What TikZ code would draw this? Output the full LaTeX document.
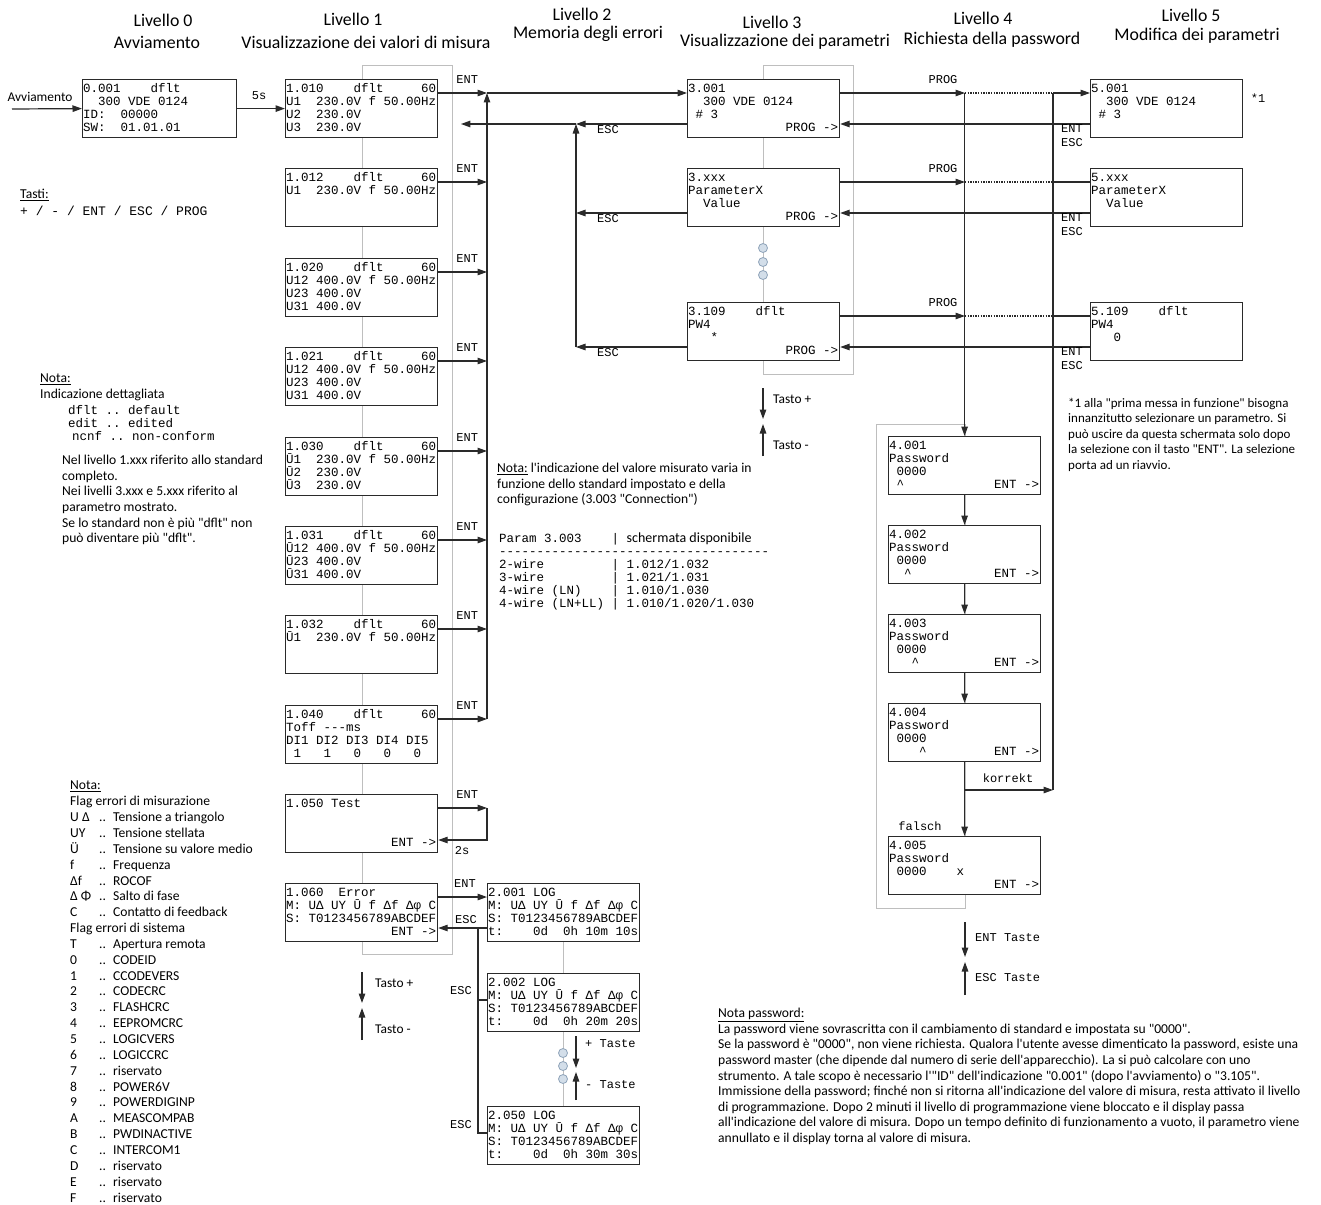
\documentclass[tikz,border=0pt]{standalone}
\usepackage{fontspec}
\newfontfamily\calfnt{Carlito}
\newfontfamily\monofnt{Liberation Mono}
\usetikzlibrary{arrows.meta,calc}
\definecolor{lc}{HTML}{2A2A2A}
\definecolor{gc}{HTML}{BEBEBE}
\definecolor{bubfill}{HTML}{D3DEE9}
\definecolor{bubdraw}{HTML}{8EA3B9}
\newcommand\monosz[1]{\fontsize{#1}{13}\selectfont\monofnt}
\newcommand\fixsp{\spaceskip=0.6001em\xspaceskip=0.6001em\relax}
\newcommand\lcdtxt[4]{\fixsp\rule{0pt}{9.5pt}#1\\\mbox{}#2\\\mbox{}#3\\\mbox{}#4\rule[-3pt]{0pt}{3pt}}
\newcommand\frow[2]{\makebox[29pt][l]{#1}\makebox[14pt][l]{..}#2}
\tikzset{
  ln/.style={draw=lc, line width=1.2pt},
  arr/.style={ln, -{Triangle[length=9.5pt,width=6.5pt]}},
  dotln/.style={draw=lc, line width=1.3pt, dash pattern=on 1.4pt off 1.2pt},
  scr/.style={draw=lc, line width=1.2pt, fill=white, anchor=north west, inner xsep=0.5pt, inner ysep=0pt, text width=151pt, minimum height=58pt, align=left, font=\monosz{12.5}},
  grp/.style={draw=gc, line width=0.9pt, anchor=north west, inner sep=0pt},
  hd/.style={font=\fontsize{17.8}{20}\selectfont\calfnt, inner sep=0pt},
  keylbl/.style={font=\monosz{12}, inner sep=0pt},
  txt/.style={font=\fontsize{13.6}{15.6}\selectfont\calfnt, inner sep=0pt, align=left, anchor=north west},
  smalllbl/.style={font=\fontsize{13.4}{14}\selectfont\calfnt, inner sep=0pt, anchor=west},
  bub/.style={circle, draw=bubdraw, fill=bubfill, line width=0.8pt, minimum size=9pt, inner sep=0pt},
}
\begin{document}
\begin{tikzpicture}[x=1pt,y=-1pt]
\useasboundingbox (0,0) rectangle (1321,1204);
\fill[white] (0,0) rectangle (1321,1204);

% group frames
\node[grp, minimum width=90pt, minimum height=889pt] (g1) at (362,65) {};
\node[grp, minimum width=90pt, minimum height=309pt] (g3) at (763,65) {};
\node[grp, minimum width=89pt, minimum height=484pt] (g4) at (876,424) {};

% headings
\node[hd] (h0a) at (163,20) {Livello 0};
\node[hd] (h0b) at (157,42) {Avviamento};
\node[hd] (h1a) at (353,19) {Livello 1};
\node[hd] (h1b) at (366,42) {Visualizzazione dei valori di misura};
\node[hd] (h2a) at (582,14) {Livello 2};
\node[hd] (h2b) at (588,34) {Memoria degli errori};
\node[hd] (h3a) at (772,22) {Livello 3};
\node[hd] (h3b) at (785,42) {Visualizzazione dei parametri};
\node[hd] (h4a) at (983,18) {Livello 4};
\node[hd] (h4b) at (992,40) {Richiesta della password};
\node[hd] (h5a) at (1191,15) {Livello 5};
\node[hd] (h5b) at (1197,36) {Modifica dei parametri};

% level 0
\node[scr, text width=153pt] (s0001) at (82,79) {\lcdtxt{0.001~~~~dflt}{~~300~VDE~0124}{ID:~~00000}{SW:~~01.01.01}};
% level 1
\node[scr] (s1010) at (285,79) {\lcdtxt{1.010~~~~dflt~~~~~60}{U1~~230.0V~f~50.00Hz}{U2~~230.0V}{U3~~230.0V}};
\node[scr] (s1012) at (285,168) {\lcdtxt{1.012~~~~dflt~~~~~60}{U1~~230.0V~f~50.00Hz}{}{}};
\node[scr] (s1020) at (285,258) {\lcdtxt{1.020~~~~dflt~~~~~60}{U12~400.0V~f~50.00Hz}{U23~400.0V}{U31~400.0V}};
\node[scr] (s1021) at (285,347) {\lcdtxt{1.021~~~~dflt~~~~~60}{U12~400.0V~f~50.00Hz}{U23~400.0V}{U31~400.0V}};
\node[scr] (s1030) at (285,437) {\lcdtxt{1.030~~~~dflt~~~~~60}{Ū1~~230.0V~f~50.00Hz}{Ū2~~230.0V}{Ū3~~230.0V}};
\node[scr] (s1031) at (285,526) {\lcdtxt{1.031~~~~dflt~~~~~60}{Ū12~400.0V~f~50.00Hz}{Ū23~400.0V}{Ū31~400.0V}};
\node[scr] (s1032) at (285,615) {\lcdtxt{1.032~~~~dflt~~~~~60}{Ū1~~230.0V~f~50.00Hz}{}{}};
\node[scr] (s1040) at (285,705) {\lcdtxt{1.040~~~~dflt~~~~~60}{Toff~---ms}{DI1~DI2~DI3~DI4~DI5}{~1~~~1~~~0~~~0~~~0}};
\node[scr] (s1050) at (285,794) {\lcdtxt{1.050~Test}{}{}{~~~~~~~~~~~~~~ENT~->}};
\node[scr] (s1060) at (285,883) {\lcdtxt{1.060~~Error}{M:~UΔ~UY~Ū~f~Δf~Δφ~C}{S:~T0123456789ABCDEF}{~~~~~~~~~~~~~~ENT~->}};
% level 2
\node[scr] (s2001) at (487,883) {\lcdtxt{2.001~LOG}{M:~UΔ~UY~Ū~f~Δf~Δφ~C}{S:~T0123456789ABCDEF}{t:~~~~0d~~0h~10m~10s}};
\node[scr] (s2002) at (487,973) {\lcdtxt{2.002~LOG}{M:~UΔ~UY~Ū~f~Δf~Δφ~C}{S:~T0123456789ABCDEF}{t:~~~~0d~~0h~20m~20s}};
\node[scr] (s2050) at (487,1106) {\lcdtxt{2.050~LOG}{M:~UΔ~UY~Ū~f~Δf~Δφ~C}{S:~T0123456789ABCDEF}{t:~~~~0d~~0h~30m~30s}};
% level 3
\node[scr] (s3001) at (687,79) {\lcdtxt{3.001}{~~300~VDE~0124}{~\#~3}{~~~~~~~~~~~~~PROG~->}};
\node[scr] (s3xxx) at (687,168) {\lcdtxt{3.xxx}{ParameterX}{~~Value}{~~~~~~~~~~~~~PROG~->}};
\node[scr] (s3109) at (687,302) {\lcdtxt{3.109~~~~dflt}{PW4}{~~~*}{~~~~~~~~~~~~~PROG~->}};
% level 4
\node[scr] (s4001) at (888,436) {\lcdtxt{4.001}{Password}{~0000}{~\textasciicircum~~~~~~~~~~~~ENT~->}};
\node[scr] (s4002) at (888,525) {\lcdtxt{4.002}{Password}{~0000}{~~\textasciicircum~~~~~~~~~~~ENT~->}};
\node[scr] (s4003) at (888,614) {\lcdtxt{4.003}{Password}{~0000}{~~~\textasciicircum~~~~~~~~~~ENT~->}};
\node[scr] (s4004) at (888,703) {\lcdtxt{4.004}{Password}{~0000}{~~~~\textasciicircum~~~~~~~~~ENT~->}};
\node[scr] (s4005) at (888,836) {\lcdtxt{4.005}{Password}{~0000~~~~x}{~~~~~~~~~~~~~~ENT~->}};
% level 5
\node[scr] (s5001) at (1090,79) {\lcdtxt{5.001}{~~300~VDE~0124}{~\#~3}{}};
\node[scr] (s5xxx) at (1090,168) {\lcdtxt{5.xxx}{ParameterX}{~~Value}{}};
\node[scr] (s5109) at (1090,302) {\lcdtxt{5.109~~~~dflt}{PW4}{~~~0}{}};

% start
\coordinate (start) at (12,109);
\node[smalllbl, anchor=center] (lavv) at (40,97) {Avviamento};
\draw[arr] (start) -- (s0001.west);
\draw[arr] (s0001.east) -- (s1010.west);
\node[keylbl] (l5s) at (259,96) {5s};

% level 1 ENT bus
\coordinate (busx) at (487,0);
\foreach \b in {1010,1012,1020,1021,1030,1031,1032,1040,1050,1060}{
  \coordinate (e\b) at ($(s\b.north east)+(0,14)$);
}
\foreach \b in {1010,1012,1020,1021,1030,1031,1032,1040,1050}{
  \draw[arr] (e\b) -- (e\b -| busx);
  \node[keylbl] (ent\b) at ($(e\b)+(29,-13)$) {ENT};
}
\draw[arr] (e1040 -| busx) -- (e1010 -| busx);
\draw[arr] (e1010 -| busx) -- (e1010 -| s3001.west);

% 1.050 loop
\coordinate (f1050) at ($(s1050.north east)+(0,46)$);
\draw[arr] (e1050 -| busx) -- (f1050 -| busx) -- (f1050);
\node[keylbl] (l2s) at (462,851) {2s};

% level 3 ESC returns
\coordinate (escx) at (576,0);
\foreach \b in {3001,3xxx,3109}{
  \coordinate (r\b) at ($(s\b.north west)+(0,45)$);
  \draw[arr] (r\b) -- (r\b -| escx);
  \node[keylbl, anchor=north] (esc\b) at ($(r\b -| escx)+(32,1)$) {ESC};
}
\draw[arr] (r3109 -| escx) -- (r3001 -| escx);
\coordinate (ret1) at ($(r3001 -| g1.east)+(8,0)$);
\draw[arr] (r3001 -| escx) -- (ret1);

% bubbles level 3
\node[bub] (b31) at (763,248) {};
\node[bub] (b32) at (763,262) {};
\node[bub] (b33) at (763,275) {};

% level 3 -> 4/5
\coordinate (progx) at (965,0);
\coordinate (korx) at (1053,0);
\foreach \b/\c in {3001/5001,3xxx/5xxx,3109/5109}{
  \coordinate (p\b) at ($(s\b.north east)+(0,14)$);
  \draw[arr] (p\b) -- (p\b -| progx);
  \draw[dotln] (p\b -| progx) -- (p\b -| korx);
  \node[keylbl] (prog\b) at ($(p\b -| progx)+(-22,-13)$) {PROG};
  \coordinate (q\c) at ($(s\c.north west)+(0,45)$);
  \draw[arr] (q\c) -- (q\c -| s\b.east);
  \node[keylbl] (lent\c) at ($(q\c)+(-18,5)$) {ENT};
  \node[keylbl] (lesc\c) at ($(q\c)+(-18,19)$) {ESC};
}
\draw[arr] (p3001 -| korx) -- (p3001 -| s5001.west);
\draw[ln] (p3xxx -| korx) -- (p3xxx -| s5xxx.west);
\draw[ln] (p3109 -| korx) -- (p3109 -| s5109.west);
\node[keylbl] (star1) at (1258,98) {*1};

% level 4
\draw[arr] (p3001 -| s4001.north) -- (s4001.north);
\draw[arr] (s4001.south) -- (s4002.north);
\draw[arr] (s4002.south) -- (s4003.north);
\draw[arr] (s4003.south) -- (s4004.north);
\draw[arr] (s4004.south) -- (s4005.north);
\coordinate (kor) at (s4004.south |- 0,790);
\draw[arr] (kor) -- (kor -| korx);
\draw[ln] (kor -| korx) -- (p3001 -| korx);
\node[keylbl, anchor=south] (lkor) at (1008,783) {korrekt};
\node[keylbl] (lfal) at (920,826) {falsch};

% level 1 -> level 2
\draw[arr] (e1060) -- (e1060 -| s2001.west);
\node[keylbl] (ent1060) at (465,884) {ENT};
\coordinate (x2001) at ($(s2001.north west)+(0,45)$);
\coordinate (x2002) at ($(s2002.north west)+(0,27)$);
\coordinate (x2050) at ($(s2050.north west)+(0,27)$);
\coordinate (escvx) at (478,0);
\draw[arr] (x2001) -- (x2001 -| s1060.east);
\draw[ln] (x2050) -- (x2050 -| escvx) -- (x2001 -| escvx);
\draw[ln] (x2002) -- (x2002 -| escvx);
\node[keylbl] (esc2001) at (466,920) {ESC};
\node[keylbl] (esc2002) at (461,991) {ESC};
\node[keylbl] (esc2050) at (461,1125) {ESC};

% level 2 centre line and bubbles
\draw[gc, line width=0.9pt] (s2001.south) -- (s2002.north);
\draw[gc, line width=0.9pt] (s2002.south) -- (s2050.north);
\node[bub] (b21) at (563,1053) {};
\node[bub] (b22) at (563,1066) {};
\node[bub] (b23) at (563,1079) {};

% key arrows
\coordinate (k2a) at (576,1036); \coordinate (k2b) at (576,1068);
\coordinate (k2c) at (576,1100); \coordinate (k2d) at (576,1072);
\draw[arr] (k2a) -- (k2b); \draw[arr] (k2c) -- (k2d);
\node[keylbl, anchor=west] (lk2a) at (585,1044) {+~Taste};
\node[keylbl, anchor=west] (lk2b) at (585,1085) {-~Taste};

\coordinate (k1a) at (362,972); \coordinate (k1b) at (362,1003);
\coordinate (k1c) at (362,1040); \coordinate (k1d) at (362,1008);
\draw[arr] (k1a) -- (k1b); \draw[arr] (k1c) -- (k1d);
\node[smalllbl] (lk1a) at (375,983) {Tasto +};
\node[smalllbl] (lk1b) at (375,1029) {Tasto -};

\coordinate (k3a) at (763,388); \coordinate (k3b) at (763,419);
\coordinate (k3c) at (763,456); \coordinate (k3d) at (763,424);
\draw[arr] (k3a) -- (k3b); \draw[arr] (k3c) -- (k3d);
\node[smalllbl] (lk3a) at (773,399) {Tasto +};
\node[smalllbl] (lk3b) at (773,445) {Tasto -};

\coordinate (k4a) at (965,922); \coordinate (k4b) at (965,957);
\coordinate (k4c) at (965,995); \coordinate (k4d) at (965,962);
\draw[arr] (k4a) -- (k4b); \draw[arr] (k4c) -- (k4d);
\node[keylbl, anchor=west] (lk4a) at (975,938) {ENT~Taste};
\node[keylbl, anchor=west] (lk4b) at (975,978) {ESC~Taste};

% notes
\node[txt] (ntasti) at (20,189) {\underline{Tasti:}};
\node[keylbl, anchor=west, font=\monosz{13}] (ntasti2) at (20,211) {+~/~-~/~ENT~/~ESC~/~PROG};

\node[txt] (nota1) at (40,374) {\underline{Nota:}\\Indicazione dettagliata};
\node[keylbl, anchor=north west, align=left, font=\monosz{12.5}] (nota1m) at (68,405) {\fixsp dflt~..~default\\edit~..~edited\\\hspace{4pt}ncnf~..~non-conform};
\node[txt] (nota1p) at (62,455) {Nel livello 1.xxx riferito allo standard\\completo.\\Nei livelli 3.xxx e 5.xxx riferito al\\parametro mostrato.\\Se lo standard non è più "dflt" non\\può diventare più "dflt".};

\node[txt] (nota2) at (497,463) {\underline{Nota:} l'indicazione del valore misurato varia in\\funzione dello standard impostato e della\\configurazione (3.003 "Connection")};
\node[keylbl, anchor=north west, align=left, font=\monosz{12.5}] (tab) at (499,533) {\fixsp Param~3.003~~~~|~{\calfnt\fontsize{14}{13}\selectfont\spaceskip=0pt\xspaceskip=0pt schermata disponibile}\\------------------------------------\\2-wire~~~~~~~~~|~1.012/1.032\\3-wire~~~~~~~~~|~1.021/1.031\\4-wire~(LN)~~~~|~1.010/1.030\\4-wire~(LN+LL)~|~1.010/1.020/1.030};

\node[txt, font=\fontsize{13.6}{15.85}\selectfont\calfnt] (nota3) at (70,781) {\underline{Nota:}\\Flag errori di misurazione\\
\frow{U Δ}{Tensione a triangolo}\\\frow{UY}{Tensione stellata}\\\frow{Ü}{Tensione su valore medio}\\
\frow{f}{Frequenza}\\\frow{Δf}{ROCOF}\\\frow{Δ Φ}{Salto di fase}\\\frow{C}{Contatto di feedback}\\
Flag errori di sistema\\\frow{T}{Apertura remota}\\\frow{0}{CODEID}\\\frow{1}{CCODEVERS}\\
\frow{2}{CODECRC}\\\frow{3}{FLASHCRC}\\\frow{4}{EEPROMCRC}\\\frow{5}{LOGICVERS}\\
\frow{6}{LOGICCRC}\\\frow{7}{riservato}\\\frow{8}{POWER6V}\\\frow{9}{POWERDIGINP}\\
\frow{A}{MEASCOMPAB}\\\frow{B}{PWDINACTIVE}\\\frow{C}{INTERCOM1}\\\frow{D}{riservato}\\
\frow{E}{riservato}\\\frow{F}{riservato}};

\node[txt, font=\fontsize{13}{15.5}\selectfont\calfnt] (nota4) at (1068,398) {*1 alla "prima messa in funzione" bisogna\\innanzitutto selezionare un parametro. Si\\può uscire da questa schermata solo dopo\\la selezione con il tasto "ENT". La selezione\\porta ad un riavvio.};

\node[txt] (nota5) at (718,1008) {\underline{Nota password:}\\
La password viene sovrascritta con il cambiamento di standard e impostata su "0000".\\
Se la password è "0000", non viene richiesta. Qualora l'utente avesse dimenticato la password, esiste una\\
password master (che dipende dal numero di serie dell'apparecchio). La si può calcolare con uno\\
strumento. A tale scopo è necessario l'"ID" dell'indicazione "0.001" (dopo l'avviamento) o "3.105".\\
Immissione della password; finché non si ritorna all'indicazione del valore di misura, resta attivato il livello\\
di programmazione. Dopo 2 minuti il livello di programmazione viene bloccato e il display passa\\
all'indicazione del valore di misura. Dopo un tempo definito di funzionamento a vuoto, il parametro viene\\
annullato e il display torna al valore di misura.};
\end{tikzpicture}
\end{document}
